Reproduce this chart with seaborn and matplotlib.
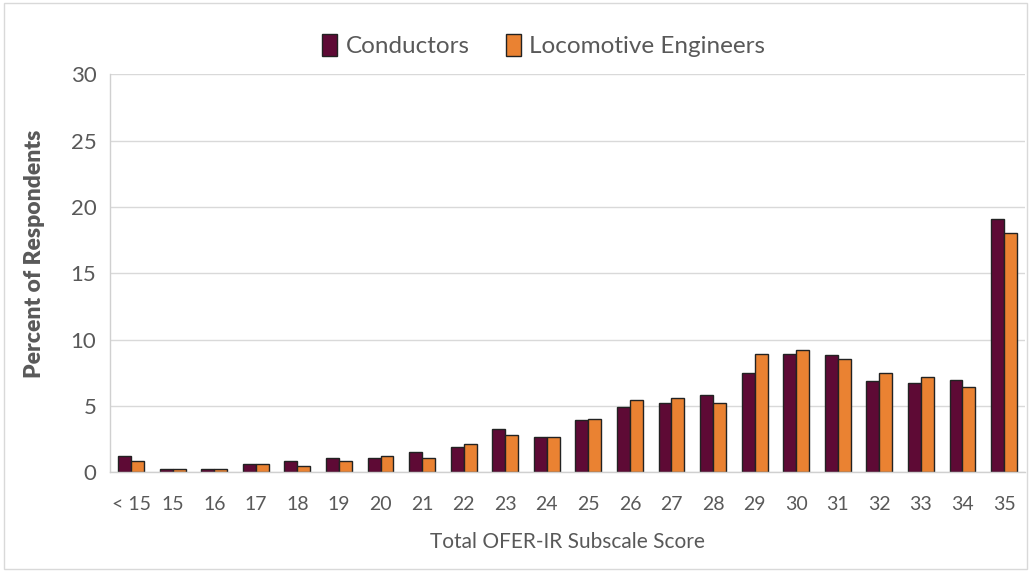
import pandas as pd
import numpy as np
import matplotlib.pyplot as plt
import seaborn as sns
from matplotlib.patches import Rectangle

# Valores (percentual de respondentes)
categorias = ['< 15', '15', '16', '17', '18', '19', '20', '21', '22', '23', '24',
              '25', '26', '27', '28', '29', '30', '31', '32', '33', '34', '35']
conductors = [1.2, 0.25, 0.25, 0.65, 0.85, 1.1, 1.1, 1.55, 1.9, 3.25, 2.65,
              3.9, 4.9, 5.25, 5.85, 7.45, 8.9, 8.8, 6.85, 6.75, 6.95, 19.1]
engineers = [0.85, 0.25, 0.25, 0.65, 0.45, 0.85, 1.2, 1.05, 2.15, 2.8, 2.65,
             4.0, 5.45, 5.6, 5.25, 8.9, 9.25, 8.55, 7.45, 7.2, 6.45, 18.05]
series = ['Conductors', 'Locomotive Engineers']
cores = ['#5E0A35', '#EA8232']

df = pd.DataFrame({
    'score': categorias * 2,
    'grupo': [series[0]] * len(categorias) + [series[1]] * len(categorias),
    'pct': conductors + engineers,
})

sns.set_style('white')
plt.rcParams['font.family'] = ['Lato', 'DejaVu Sans']
cinza = '#595959'

fig = plt.figure(figsize=(10.31, 5.71), dpi=100)
ax = fig.add_axes([0.107, 0.173, 0.887, 0.697])

sns.barplot(data=df, x='score', y='pct', hue='grupo', hue_order=series,
            order=categorias, palette=cores, width=0.62, edgecolor='#222222',
            linewidth=1.0, saturation=1, ax=ax)

ax.set_ylim(0, 30)
ax.set_yticks(range(0, 31, 5))
ax.set_xlim(-0.5, len(categorias) - 0.5)
ax.yaxis.grid(True, color='#D9D9D9', linewidth=1)
ax.set_axisbelow(True)
for lado in ['top', 'right']:
    ax.spines[lado].set_visible(False)
for lado in ['left', 'bottom']:
    ax.spines[lado].set_color('#D0D0D0')
    ax.spines[lado].set_linewidth(1)

ax.tick_params(axis='y', labelsize=16, colors=cinza, length=0, pad=10)
ax.tick_params(axis='x', labelsize=14, colors=cinza, length=0, pad=17)
ax.set_ylabel('Percent of Respondents', fontsize=16.5, fontweight='heavy',
              color=cinza)
ax.yaxis.set_label_coords(-0.071, 0.548)
ax.set_xlabel('Total OFER-IR Subscale Score', fontsize=15, color=cinza,
              labelpad=14)

ax.legend(loc='lower center', bbox_to_anchor=(0.474, 1.0), ncol=2, frameon=False,
          fontsize=17.5, handlelength=0.6, handleheight=1.0, handletextpad=0.35,
          columnspacing=1.5, labelcolor=cinza, borderaxespad=0.3)

# Borda clara em volta da figura
fig.patches.append(Rectangle((0.004, 0.004), 0.992, 0.99, transform=fig.transFigure,
                             fill=False, edgecolor='#D9D9D9', linewidth=1))

plt.savefig('out.png', dpi=100)
